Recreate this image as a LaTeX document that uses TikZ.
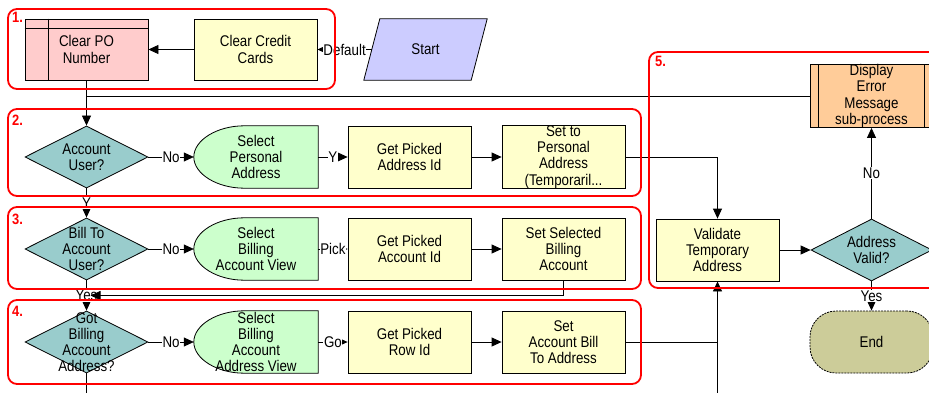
\documentclass[tikz,border=0pt]{standalone}
\usepackage{fontspec}
\setmainfont{Liberation Sans}[FakeStretch=0.86]
\usetikzlibrary{arrows.meta,shapes.geometric,calc,backgrounds}
\definecolor{taskfill}{HTML}{FFFFCC}
\definecolor{pinkfill}{HTML}{FFCCCC}
\definecolor{dispfill}{HTML}{CCFFCC}
\definecolor{decfill}{HTML}{99CCCC}
\definecolor{errfill}{HTML}{FFCC99}
\definecolor{endfill}{HTML}{CCCC99}
\definecolor{startfill}{HTML}{CCCCFF}
\begin{document}
\begin{tikzpicture}[x=1pt,y=-1pt,
  every node/.style={font=\fontsize{15.5}{16.2}\selectfont, inner sep=0pt, align=center, text=black},
  base/.style={draw=black, line width=0.8pt, minimum width=123pt, minimum height=62pt},
  task/.style={base, rectangle, fill=taskfill},
  dec/.style={base, diamond, fill=decfill},
  disp/.style={rectangle, minimum width=124pt, minimum height=62pt},
  conn/.style={draw=black, line width=0.8pt},
  arr/.style={conn, -{Triangle[length=10pt,width=9pt]}},
  lab/.style={fill=white, inner sep=0.6pt},
  grp/.style={draw=red, line width=1.8pt, rounded corners=9pt},
  gnum/.style={text=red, font=\fontsize{15}{16}\selectfont\bfseries, anchor=north west},
]
\useasboundingbox (0,0) rectangle (929,393);
\clip (0,0) rectangle (929,393);

% row 1
\node[task, fill=pinkfill, minimum height=61pt] (cpo) at (86.5,49.5) {Clear PO\\Number};
\node[task, minimum height=61pt] (ccc) at (255.5,49.5) {Clear Credit\\Cards};
\node[disp, minimum width=123pt, minimum height=61pt] (start) at (425.5,49.5) {Start};

% row 2
\node[dec, label=center:{Account\\User?}] (acct) at (86.5,157) {};
\node[disp] (sp) at (256,157) {Select\\Personal\\Address};
\node[task] (gpa) at (409.5,157) {Get Picked\\Address Id};
\node[task] (stp) at (563.5,157) {Set to\\Personal\\Address\\(Temporaril...};

% row 3
\node[dec, label=center:{Bill To\\Account\\User?}] (bill) at (86.5,249) {};
\node[disp] (sba) at (256,249) {Select\\Billing\\Account View};
\node[task] (gpa2) at (409.5,249) {Get Picked\\Account Id};
\node[task] (ssb) at (563.5,249) {Set Selected\\Billing\\Account};

% row 4
\node[dec, label=center:{Got\\Billing\\Account\\Address?}] (gba) at (86.5,342) {};
\node[disp] (sbaa) at (256,342) {Select\\Billing\\Account\\Address View};
\node[task] (gpr) at (409.5,342) {Get Picked\\Row Id};
\node[task] (sab) at (563.5,342) {Set\\Account Bill\\To Address};

% group 5
\node[task, fill=errfill] (err) at (871.5,96) {Display\\Error\\Message\\sub-process};
\node[task] (val) at (717.5,250) {Validate\\Temporary\\Address};
\node[dec, minimum width=121pt, label=center:{Address\\Valid?}] (av) at (871.5,250) {};
\node[base, fill=endfill, rounded corners=26pt, dash pattern=on 2pt off 1pt] (end) at (871.5,342) {End};

\begin{scope}[on background layer]
  \foreach \n in {sp,sba,sbaa} {
    \draw[line width=0.8pt, fill=dispfill] (\n.north east) -- ($(\n.north east)+(-74,0)$)
      .. controls +(-27,0) and +(0,-17) .. (\n.west)
      .. controls +(0,17) and +(-27,0) .. ($(\n.south east)+(-74,0)$) -- (\n.south east) -- cycle;
  }
  \draw[line width=0.8pt, fill=startfill] (start.south west) -- ($(start.north west)+(16,0)$)
    -- (start.north east) -- ($(start.south east)+(-16,0)$) -- cycle;
\end{scope}

% inner lines of sub-process boxes
\draw[line width=0.8pt] ($(cpo.north west)+(24,0)$) -- ($(cpo.south west)+(24,0)$);
\draw[line width=0.8pt] ($(cpo.north west)+(0,10)$) -- ($(cpo.north east)+(0,10)$);
\draw[line width=0.8pt] ($(err.north west)+(9,0)$) -- ($(err.south west)+(9,0)$);
\draw[line width=0.8pt] ($(err.north east)+(-9,0)$) -- ($(err.south east)+(-9,0)$);

% connectors
\coordinate (startin) at ($(start.west)+(8,0)$);
\draw[arr] (startin) -- node[lab] {Default} (ccc.east);
\draw[arr] (ccc.west) -- (cpo.east);
\draw[arr] (cpo.south) -- (acct.north);
\draw[conn] (err.west) -- (err.west -| cpo.south);

\draw[arr] (acct.east) -- node[lab] {No} (sp.west);
\draw[arr] (sp.east) -- node[lab] {Y} (gpa.west);
\draw[arr] (gpa.east) -- (stp.west);
\draw[arr] (stp.east) -| (val.north);
\draw[arr] (acct.south) -- node[lab] {Y} (bill.north);

\draw[arr] (bill.east) -- node[lab] {No} (sba.west);
\draw[arr] (sba.east) -- node[lab] {Pick} (gpa2.west);
\draw[arr] (gpa2.east) -- (ssb.west);
\draw[arr] (bill.south) -- node[lab] {Yes} (gba.north);
\draw[arr] (ssb.south) |- ($(bill.south)!0.5!(gba.north)+(4,0)$);

\draw[arr] (gba.east) -- node[lab] {No} (sbaa.west);
\draw[arr] (sbaa.east) -- node[lab] {Go} (gpr.west);
\draw[arr] (gpr.east) -- (sab.west);
\coordinate (vbot) at (717.5,393);
\draw[arr] (vbot) -- (val.south);
\draw[conn] (sab.east) -- (sab.east -| val.south);
\coordinate (abot) at (86.5,393);
\draw[conn] (gba.south) -- (abot);

\draw[arr] (val.east) -- (av.west);
\draw[arr] (av.north) -- node[lab] {No} (err.south);
\draw[arr] (av.south) -- node[lab] {Yes} (end.north);

% groups
\draw[grp] (8,9) rectangle (335,89);
\draw[grp] (8,109) rectangle (641,196);
\draw[grp] (8,207) rectangle (641,289);
\draw[grp] (8,300) rectangle (641,384);
\draw[grp] (649,52) rectangle (945,288);
\node[gnum] (g1) at (12,12) {1.};
\node[gnum] (g2) at (12,115) {2.};
\node[gnum] (g3) at (12,214) {3.};
\node[gnum] (g4) at (12,306) {4.};
\node[gnum] (g5) at (655,56) {5.};
\end{tikzpicture}
\end{document}
